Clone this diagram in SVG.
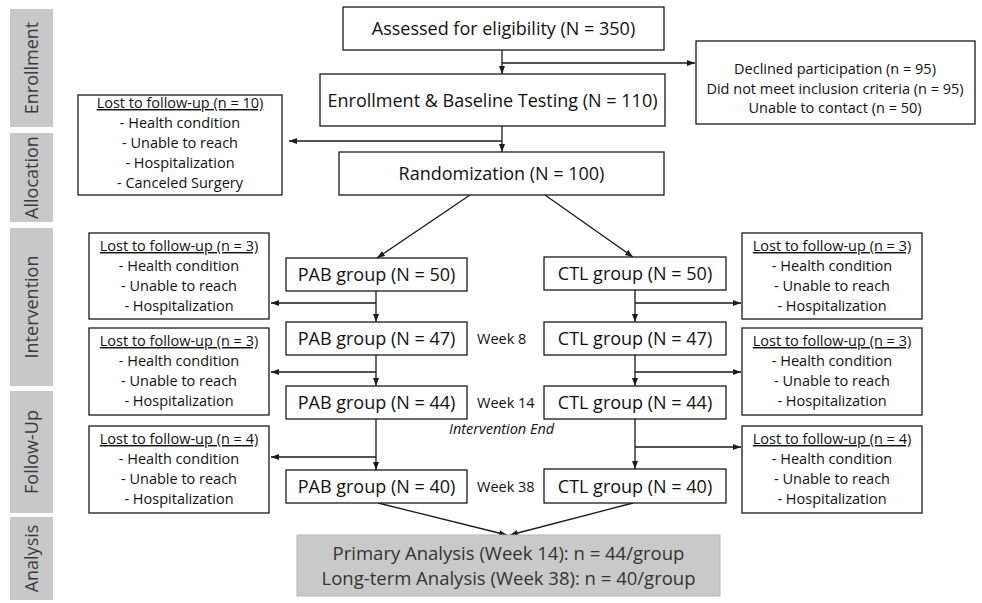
<svg xmlns="http://www.w3.org/2000/svg" width="982" height="603" viewBox="0 0 982 603">
<style>
.bg{fill:#ffffff}
.side{fill:#c8c8c8}
.sidet{font-family:"Open Sans",sans-serif;font-size:18px;fill:#3a3a3a;text-anchor:middle}
.box{fill:#ffffff;stroke:#1a1a1a;stroke-width:1.3}
.abox{fill:#c9c9c9;stroke:#b5b5b5;stroke-width:1}
.mt{font-family:"Open Sans",sans-serif;font-size:18px;fill:#111111;text-anchor:middle}
.st{font-family:"Open Sans",sans-serif;font-size:14.5px;fill:#111111;text-anchor:middle}
.wk{font-family:"Open Sans",sans-serif;font-size:14.5px;fill:#111111}
.it{font-family:"Open Sans",sans-serif;font-size:14.5px;font-style:italic;fill:#111111}
.at{font-family:"Open Sans",sans-serif;font-size:18.5px;fill:#333333;text-anchor:middle}
.ul{text-decoration:underline}
.ln{fill:none;stroke:#1a1a1a;stroke-width:1.3}
</style>
<defs>
<marker id="ah" markerWidth="8" markerHeight="7" refX="8" refY="3.5" orient="auto" markerUnits="userSpaceOnUse">
<path d="M0,0.5 L8,3.5 L0,6.5 z" fill="#1a1a1a"/>
</marker>
</defs>
<rect class="bg" x="0" y="0" width="982" height="603"/>

<g id="sidebar">
<rect class="side" x="10" y="9" width="43" height="118"/>
<text class="sidet" transform="translate(38,68) rotate(-90)">Enrollment</text>
<rect class="side" x="10" y="133" width="43" height="89"/>
<text class="sidet" transform="translate(38,177.5) rotate(-90)">Allocation</text>
<rect class="side" x="10" y="228" width="43" height="158"/>
<text class="sidet" transform="translate(38,307) rotate(-90)">Intervention</text>
<rect class="side" x="10" y="391" width="43" height="122"/>
<text class="sidet" transform="translate(38,452) rotate(-90)">Follow-Up</text>
<rect class="side" x="10" y="517" width="43" height="83"/>
<text class="sidet" transform="translate(38,558.5) rotate(-90)">Analysis</text>
</g>

<g id="connectors">
<line class="ln" x1="502" y1="50" x2="502" y2="74" marker-end="url(#ah)"/>
<line class="ln" x1="502" y1="63" x2="695" y2="63" marker-end="url(#ah)"/>
<line class="ln" x1="502" y1="126" x2="502" y2="152" marker-end="url(#ah)"/>
<line class="ln" x1="502" y1="141" x2="289" y2="141" marker-end="url(#ah)"/>
<line class="ln" x1="470" y1="195" x2="377" y2="258" marker-end="url(#ah)"/>
<line class="ln" x1="545" y1="195" x2="633" y2="257" marker-end="url(#ah)"/>
<line class="ln" x1="376" y1="291" x2="376" y2="322" marker-end="url(#ah)"/>
<line class="ln" x1="376" y1="303" x2="271" y2="303" marker-end="url(#ah)"/>
<line class="ln" x1="376" y1="355" x2="376" y2="386" marker-end="url(#ah)"/>
<line class="ln" x1="376" y1="372" x2="271" y2="372" marker-end="url(#ah)"/>
<line class="ln" x1="376" y1="419" x2="376" y2="470" marker-end="url(#ah)"/>
<line class="ln" x1="376" y1="457" x2="271" y2="457" marker-end="url(#ah)"/>
<line class="ln" x1="635" y1="290" x2="635" y2="322" marker-end="url(#ah)"/>
<line class="ln" x1="635" y1="303" x2="741" y2="303" marker-end="url(#ah)"/>
<line class="ln" x1="635" y1="355" x2="635" y2="386" marker-end="url(#ah)"/>
<line class="ln" x1="635" y1="372" x2="741" y2="372" marker-end="url(#ah)"/>
<line class="ln" x1="635" y1="419" x2="635" y2="469" marker-end="url(#ah)"/>
<line class="ln" x1="635" y1="447" x2="741" y2="447" marker-end="url(#ah)"/>
<line class="ln" x1="378" y1="503" x2="507" y2="535" marker-end="url(#ah)"/>
<line class="ln" x1="633" y1="503" x2="510" y2="535" marker-end="url(#ah)"/>
</g>

<g id="assessed">
<rect class="box" x="343" y="7" width="321" height="43"/>
<text class="mt" x="503.5" y="35">Assessed for eligibility (N = 350)</text>
</g>
<g id="excluded">
<rect class="box" x="696" y="41" width="279" height="83"/>
<text class="st" x="835" y="74">Declined participation (n = 95)</text>
<text class="st" x="835" y="94">Did not meet inclusion criteria (n = 95)</text>
<text class="st" x="835" y="113">Unable to contact (n = 50)</text>
</g>
<g id="enrollment">
<rect class="box" x="320" y="74" width="345" height="52"/>
<text class="mt" x="492.5" y="106.5">Enrollment &amp; Baseline Testing (N = 110)</text>
</g>
<g id="lost-enroll">
<rect class="box" x="78" y="95" width="204" height="100"/>
<text class="st ul" x="180" y="108">Lost to follow-up (n = 10)</text>
<text class="st" x="180" y="128">- Health condition</text>
<text class="st" x="180" y="148">- Unable to reach</text>
<text class="st" x="180" y="168">- Hospitalization</text>
<text class="st" x="180" y="188">- Canceled Surgery</text>
</g>
<g id="randomization">
<rect class="box" x="339" y="152" width="325" height="43"/>
<text class="mt" x="501.5" y="180">Randomization (N = 100)</text>
</g>

<g id="pab50">
<rect class="box" x="286" y="258" width="181" height="33"/>
<text class="mt" x="376.5" y="281">PAB group (N = 50)</text>
</g>
<g id="pab47">
<rect class="box" x="286" y="322" width="181" height="33"/>
<text class="mt" x="376.5" y="345">PAB group (N = 47)</text>
</g>
<g id="pab44">
<rect class="box" x="286" y="386" width="181" height="33"/>
<text class="mt" x="376.5" y="409">PAB group (N = 44)</text>
</g>
<g id="pab40">
<rect class="box" x="286" y="470" width="181" height="33"/>
<text class="mt" x="376.5" y="493">PAB group (N = 40)</text>
</g>

<g id="ctl50">
<rect class="box" x="544" y="257" width="182" height="33"/>
<text class="mt" x="635" y="280">CTL group (N = 50)</text>
</g>
<g id="ctl47">
<rect class="box" x="544" y="322" width="182" height="33"/>
<text class="mt" x="635" y="345">CTL group (N = 47)</text>
</g>
<g id="ctl44">
<rect class="box" x="544" y="386" width="182" height="33"/>
<text class="mt" x="635" y="409">CTL group (N = 44)</text>
</g>
<g id="ctl40">
<rect class="box" x="544" y="469" width="182" height="34"/>
<text class="mt" x="635" y="492.5">CTL group (N = 40)</text>
</g>

<g id="week-labels">
<text class="wk" x="477" y="344">Week 8</text>
<text class="wk" x="477" y="408">Week 14</text>
<text class="it" x="449" y="434">Intervention End</text>
<text class="wk" x="477" y="492">Week 38</text>
</g>

<g id="lost-pab-1">
<rect class="box" x="89" y="233" width="180" height="86"/>
<text class="st ul" x="179" y="251">Lost to follow-up (n = 3)</text>
<text class="st" x="179" y="271">- Health condition</text>
<text class="st" x="179" y="291">- Unable to reach</text>
<text class="st" x="179" y="311">- Hospitalization</text>
</g>
<g id="lost-pab-2">
<rect class="box" x="89" y="328" width="180" height="87"/>
<text class="st ul" x="179" y="346">Lost to follow-up (n = 3)</text>
<text class="st" x="179" y="366">- Health condition</text>
<text class="st" x="179" y="386">- Unable to reach</text>
<text class="st" x="179" y="406">- Hospitalization</text>
</g>
<g id="lost-pab-3">
<rect class="box" x="89" y="426" width="180" height="87"/>
<text class="st ul" x="179" y="444">Lost to follow-up (n = 4)</text>
<text class="st" x="179" y="464">- Health condition</text>
<text class="st" x="179" y="484">- Unable to reach</text>
<text class="st" x="179" y="504">- Hospitalization</text>
</g>
<g id="lost-ctl-1">
<rect class="box" x="742" y="233" width="180" height="86"/>
<text class="st ul" x="832" y="251">Lost to follow-up (n = 3)</text>
<text class="st" x="832" y="271">- Health condition</text>
<text class="st" x="832" y="291">- Unable to reach</text>
<text class="st" x="832" y="311">- Hospitalization</text>
</g>
<g id="lost-ctl-2">
<rect class="box" x="742" y="328" width="180" height="87"/>
<text class="st ul" x="832" y="346">Lost to follow-up (n = 3)</text>
<text class="st" x="832" y="366">- Health condition</text>
<text class="st" x="832" y="386">- Unable to reach</text>
<text class="st" x="832" y="406">- Hospitalization</text>
</g>
<g id="lost-ctl-3">
<rect class="box" x="742" y="426" width="180" height="87"/>
<text class="st ul" x="832" y="444">Lost to follow-up (n = 4)</text>
<text class="st" x="832" y="464">- Health condition</text>
<text class="st" x="832" y="484">- Unable to reach</text>
<text class="st" x="832" y="504">- Hospitalization</text>
</g>

<g id="analysis">
<rect class="abox" x="297" y="535" width="423" height="61"/>
<text class="at" x="508.5" y="560">Primary Analysis (Week 14): n = 44/group</text>
<text class="at" x="508.5" y="585">Long-term Analysis (Week 38): n = 40/group</text>
</g>
</svg>
